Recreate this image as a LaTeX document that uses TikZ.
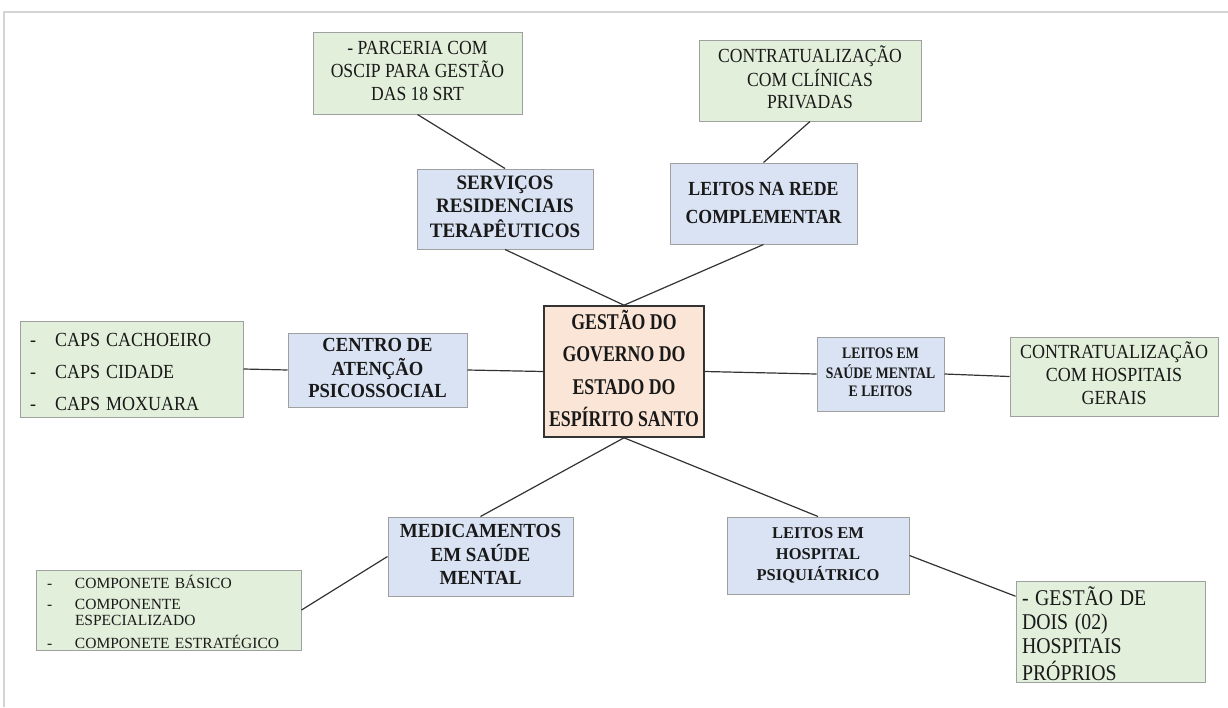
\documentclass[tikz,border=0pt]{standalone}
\usepackage{fontspec}
\setmainfont{Liberation Serif}
\usepackage{graphicx}
\usetikzlibrary{calc}
\definecolor{gfill}{HTML}{E2EFDA}
\definecolor{bfill}{HTML}{DAE3F3}
\definecolor{pfill}{HTML}{FBE5D6}
\definecolor{boxline}{HTML}{A0A0A0}
\definecolor{frameline}{HTML}{D4D4D4}
\newcommand{\fsz}[2]{\fontsize{#1}{#2}\selectfont}
\newcommand{\sq}[3]{\scalebox{#1}[1]{\begin{tabular}{@{}#2@{}}#3\end{tabular}}}
\newcommand{\lowr}[2]{\raisebox{-#1}[\height][\depth]{#2}}
\newcommand{\dsh}{\makebox[28pt][l]{-}}
\tikzset{
  box/.style={rectangle, draw=boxline, line width=1pt, inner sep=0pt, align=center, text=black!90},
  greenbox/.style={box, fill=gfill},
  bluebox/.style={box, fill=bfill},
  mainbox/.style={box, fill=pfill, draw=black!80, line width=1.6pt},
  conn/.style={draw=black!80, line width=1.2pt},
}
\begin{document}
\begin{tikzpicture}[x=1pt,y=-1pt]
\useasboundingbox (0,0) rectangle (1228,707);
\fill[white] (0,0) rectangle (1228,707);
\draw[frameline, line width=1.5pt] (4,707) -- (4,12) -- (1228,12);

% central
\node[mainbox, minimum width=160pt, minimum height=131pt, font=\bfseries\fsz{22.5}{32.5}] (gov) at (624,371.5)
  {\sq{0.79}{c}{GESTÃO DO\\GOVERNO DO\\ESTADO DO\\ESPÍRITO SANTO}};

% top
\node[greenbox, minimum width=209pt, minimum height=82pt, font=\fsz{20}{22.5}] (parc) at (417.5,73)
  {\sq{0.88}{c}{- PARCERIA COM\\OSCIP PARA GESTÃO\\DAS 18 SRT}};
\node[bluebox, minimum width=176pt, minimum height=80pt, font=\bfseries\fsz{20.5}{23}] (srt) at (505,209)
  {\sq{0.93}{c}{SERVIÇOS\\RESIDENCIAIS\\TERAPÊUTICOS}};
\node[greenbox, minimum width=222pt, minimum height=81pt, font=\fsz{20}{22.5}] (clin) at (810,80.5)
  {\sq{0.88}{c}{CONTRATUALIZAÇÃO\\COM CLÍNICAS\\PRIVADAS}};
\node[bluebox, minimum width=187pt, minimum height=81pt, font=\bfseries\fsz{20}{28}] (rede) at (763.5,203.5)
  {\sq{0.89}{c}{LEITOS NA REDE\\COMPLEMENTAR}};

% middle
\node[greenbox, minimum width=223pt, minimum height=94pt, inner xsep=10pt, text width=203pt, align=left, font=\fsz{20}{32}] (caps) at (131.5,369)
  {\lowr{3pt}{\sq{0.9}{l}{\dsh CAPS CACHOEIRO\\\dsh CAPS CIDADE\\\dsh CAPS MOXUARA}}};
\node[bluebox, minimum width=179pt, minimum height=74pt, font=\bfseries\fsz{20}{22.5}] (cent) at (377.5,370)
  {\sq{0.93}{c}{CENTRO DE\\ATENÇÃO\\PSICOSSOCIAL}};
\node[bluebox, minimum width=127pt, minimum height=74pt, font=\bfseries\fsz{16}{18.5}] (lsm) at (880.5,374)
  {\sq{0.86}{c}{LEITOS EM\\SAÚDE MENTAL\\E LEITOS}};
\node[greenbox, minimum width=208pt, minimum height=79pt, font=\fsz{20}{23}] (hosp) at (1114,376.5)
  {\sq{0.9}{c}{CONTRATUALIZAÇÃO\\COM HOSPITAIS\\GERAIS}};

% bottom
\node[bluebox, minimum width=185pt, minimum height=79pt, font=\bfseries\fsz{20}{23}] (med) at (480.5,556.5)
  {\sq{0.95}{c}{MEDICAMENTOS\\EM SAÚDE\\MENTAL}};
\node[bluebox, minimum width=182pt, minimum height=77pt, font=\bfseries\fsz{16.5}{21}] (lhp) at (818,555.5)
  {\sq{1.0}{c}{LEITOS EM\\HOSPITAL\\PSIQUIÁTRICO}};
\node[greenbox, minimum width=265pt, minimum height=80pt, inner xsep=11pt, text width=243pt, align=left, font=\fsz{15.5}{16}] (comp) at (168.5,610)
  {\lowr{4pt}{\sq{1.0}{l}{\dsh COMPONETE BÁSICO\\[5pt]\dsh COMPONENTE\\\hspace*{28pt}ESPECIALIZADO\\[5pt]\dsh COMPONETE ESTRATÉGICO}}};
\node[greenbox, minimum width=189pt, minimum height=98pt, inner xsep=6pt, text width=177pt, align=left, font=\fsz{22.5}{24}] (dois) at (1110.5,632)
  {\lowr{5pt}{\sq{0.88}{l}{- GESTÃO DE\\DOIS (02)\\HOSPITAIS\\PRÓPRIOS}}};

% connectors
\draw[conn] (parc.south) -- (srt.north);
\draw[conn] (clin.south) -- (rede.north);
\draw[conn] (srt.south) -- (gov.north);
\draw[conn] (rede.south) -- (gov.north);
\draw[conn] (caps.east) -- (cent.west);
\draw[conn] (cent.east) -- (gov.west);
\draw[conn] (gov.east) -- (lsm.west);
\draw[conn] (lsm.east) -- (hosp.west);
\draw[conn] (gov.south) -- (med.north);
\draw[conn] (gov.south) -- (lhp.north);
\draw[conn] (med.west) -- (comp.east);
\draw[conn] (lhp.east) -- ($(dois.north west)+(0,15)$);
\end{tikzpicture}
\end{document}
